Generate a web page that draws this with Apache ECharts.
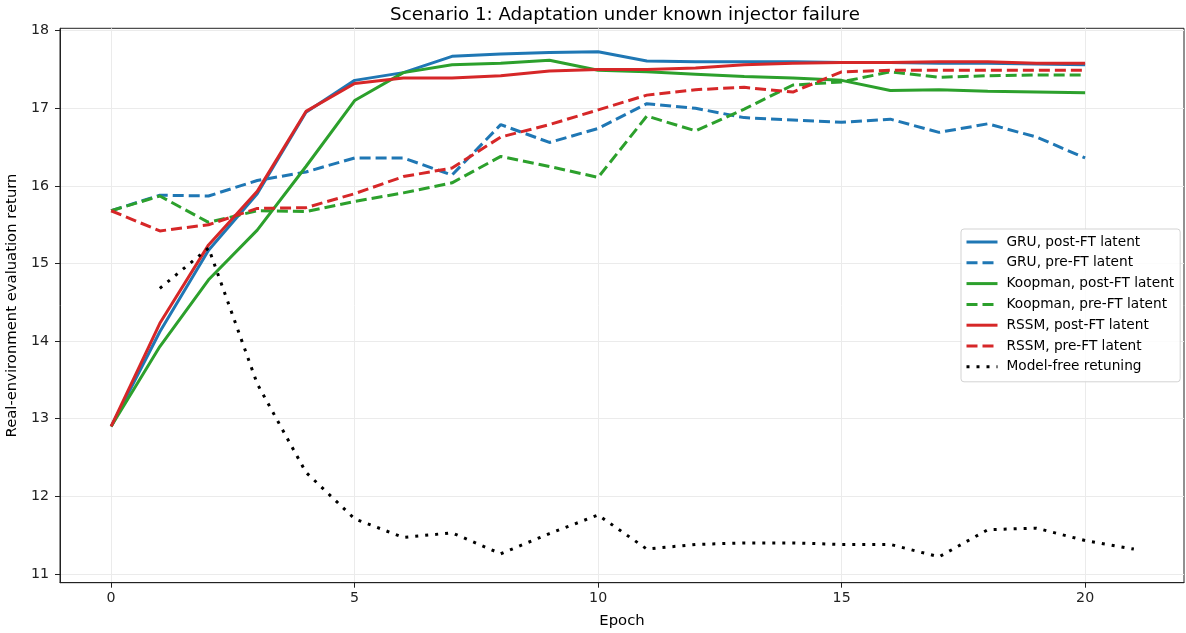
<!DOCTYPE html>
<html>
<head>
<meta charset="utf-8">
<script src="https://cdn.jsdelivr.net/npm/echarts@6/dist/echarts.min.js"></script>
<style>
html,body{margin:0;padding:0;background:#fff;}
#chart{width:1186px;height:633px;}
</style>
</head>
<body>
<div id="chart"></div>
<script>
const epochs = [0,1,2,3,4,5,6,7,8,9,10,11,12,13,14,15,16,17,18,19,20];
const epochsModelFree = [1,2,3,4,5,6,7,8,9,10,11,12,13,14,15,16,17,18,19,20,21];
const xTicks = [0,5,10,15,20];
const yTicks = [11,12,13,14,15,16,17,18];

const gruPost  = [12.90,14.12,15.17,15.90,16.95,17.36,17.46,17.67,17.70,17.72,17.73,17.61,17.60,17.60,17.60,17.59,17.59,17.58,17.58,17.57,17.56];
const gruPre   = [15.68,15.88,15.87,16.07,16.18,16.36,16.36,16.14,16.79,16.56,16.74,17.06,17.00,16.88,16.85,16.82,16.86,16.69,16.80,16.63,16.36];
const koopPost = [12.90,13.93,14.79,15.43,16.25,17.10,17.46,17.56,17.58,17.62,17.49,17.47,17.44,17.41,17.39,17.36,17.23,17.24,17.22,17.21,17.20];
const koopPre  = [15.68,15.87,15.53,15.68,15.67,15.80,15.91,16.04,16.38,16.25,16.11,16.90,16.71,16.99,17.30,17.34,17.47,17.40,17.42,17.43,17.43];
const rssmPost = [12.90,14.23,15.24,15.93,16.96,17.32,17.39,17.39,17.42,17.48,17.50,17.50,17.52,17.56,17.58,17.59,17.59,17.60,17.60,17.58,17.58];
const rssmPre  = [15.68,15.42,15.50,15.71,15.72,15.90,16.12,16.23,16.63,16.79,16.98,17.17,17.24,17.27,17.21,17.47,17.49,17.49,17.49,17.49,17.49];
const modelFree = [14.68,15.20,13.45,12.31,11.71,11.47,11.53,11.26,11.52,11.76,11.32,11.38,11.40,11.40,11.38,11.38,11.22,11.57,11.59,11.43,11.32];

const seriesNames = ['GRU, post-FT latent','GRU, pre-FT latent','Koopman, post-FT latent','Koopman, pre-FT latent','RSSM, post-FT latent','RSSM, pre-FT latent','Model-free retuning'];

const FONT = 'DejaVu Sans';
const FS_TICK = 14.2;
const FS_NAME = 14.8;
const FS_LEG = 13.7;
function pairs(xs, ys){ return xs.map((x,i)=>[x, ys[i]]); }
function mk(name, xs, ys, color, type){
  return {
    name: name, type: 'line', data: pairs(xs, ys),
    symbol: 'none', showSymbol: false, smooth: false, animation: false,
    lineStyle: {color: color, width: 3, type: type},
    itemStyle: {color: color},
    emphasis: {disabled: true}
  };
}

const chart = echarts.init(document.getElementById('chart'), null, {renderer: 'canvas'});
chart.setOption({
  animation: false,
  backgroundColor: '#fff',
  title: {
    text: 'Scenario 1: Adaptation under known injector failure',
    left: 620, top: 1, textAlign: 'center',
    textStyle: {fontFamily: FONT, fontSize: 18.2, fontWeight: 'normal', color: '#000'}
  },
  grid: {left: 60, right: 2, top: 28.3, bottom: 50.3, outerBoundsMode: 'none', containLabel: false,
         show: true, borderColor: '#222', borderWidth: 1, backgroundColor: 'transparent'},
  legend: {
    orient: 'vertical', left: 961, top: 229,
    padding: [6, 6, 8, 4], itemGap: 6.8, itemWidth: 31, itemHeight: 14,
    itemStyle: {opacity: 0},
    lineStyle: {width: 3},
    backgroundColor: 'rgba(255,255,255,0.85)', borderColor: '#d3d3d3', borderWidth: 1, borderRadius: 3,
    data: seriesNames,
    textStyle: {fontFamily: FONT, fontSize: FS_LEG, color: '#000', padding: [0,0,0,4]},
    selectedMode: false
  },
  xAxis: {
    type: 'value', min: -1.05, max: 22.03,
    name: 'Epoch', nameLocation: 'middle', nameGap: 31,
    nameTextStyle: {fontFamily: FONT, fontSize: FS_NAME, color: '#000'},
    axisLine: {show: true, onZero: false, lineStyle: {color: '#222', width: 1}},
    axisTick: {show: true, length: 5, inside: false, lineStyle: {color: '#222'}, customValues: xTicks},
    axisLabel: {fontFamily: FONT, fontSize: FS_TICK, color: '#222', margin: 9, customValues: xTicks},
    splitLine: {show: true, lineStyle: {color: '#ebebeb', width: 1}}
  },
  yAxis: {
    type: 'value', min: 10.887, max: 18.031,
    name: 'Real-environment evaluation return', nameLocation: 'middle', nameGap: 36,
    nameTextStyle: {fontFamily: FONT, fontSize: FS_NAME, color: '#000'},
    axisLine: {show: true, onZero: false, lineStyle: {color: '#222', width: 1}},
    axisTick: {show: true, length: 5, inside: false, lineStyle: {color: '#222'}, customValues: yTicks},
    axisLabel: {fontFamily: FONT, fontSize: FS_TICK, color: '#222', margin: 11, customValues: yTicks},
    splitLine: {show: true, lineStyle: {color: '#ebebeb', width: 1}}
  },
  series: [
    mk(seriesNames[0], epochs, gruPost, '#1f77b4', 'solid'),
    mk(seriesNames[1], epochs, gruPre, '#1f77b4', [11, 5]),
    mk(seriesNames[2], epochs, koopPost, '#2ca02c', 'solid'),
    mk(seriesNames[3], epochs, koopPre, '#2ca02c', [11, 5]),
    mk(seriesNames[4], epochs, rssmPost, '#d62728', 'solid'),
    mk(seriesNames[5], epochs, rssmPre, '#d62728', [11, 5]),
    mk(seriesNames[6], epochsModelFree, modelFree, '#000000', [3, 7])
  ]
});
</script>
</body>
</html>
